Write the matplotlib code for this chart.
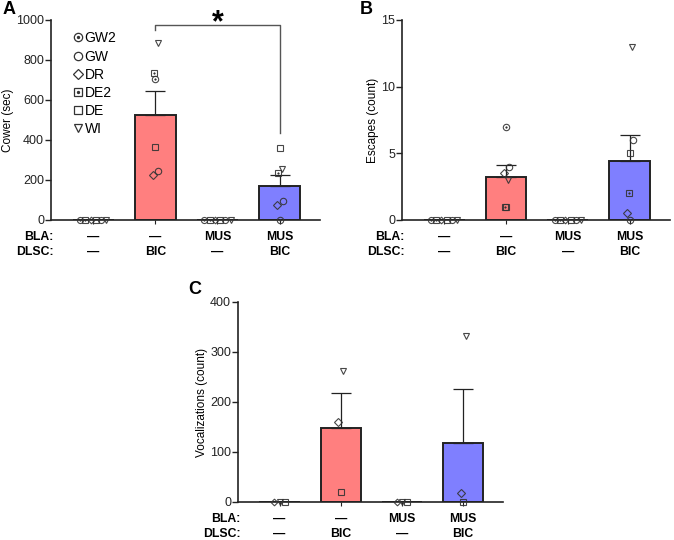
import numpy as np
import matplotlib
matplotlib.use("Agg")
import matplotlib.pyplot as plt
from matplotlib.lines import Line2D
from matplotlib.legend_handler import HandlerTuple

plt.rcParams['font.family'] = ['Liberation Sans', 'DejaVu Sans']

# ---------------- data ----------------
groups = ["g1", "g2", "g3", "g4"]
bla_labels = ["—", "—", "MUS", "MUS"]
dlsc_labels = ["—", "BIC", "—", "BIC"]
animals = ["GW2", "GW", "DR", "DE2", "DE", "WI"]

# Cower (sec), per group per animal (GW2, GW, DR, DE2, DE, WI)
cower = [
    [0, 0, 0, 0, 0, 0],
    [703, 245, 225, 737, 367, 886],
    [0, 0, 0, 0, 0, 0],
    [0, 93, 77, 237, 358, 253],
]
# Escapes (count)
escapes = [
    [0, 0, 0, 0, 0, 0],
    [7, 4, 3.5, 1, 1, 3],
    [0, 0, 0, 0, 0, 0],
    [0, 6, 0.5, 2, 5, 13],
]
# Vocalizations (count), animals DR, DE, WI
voc_animals = ["DR", "DE", "WI"]
vocal = [
    [0, 0, 0],
    [161, 20, 263],
    [0, 0, 0],
    [19, 0, 333],
]

# ---------------- styles ----------------
bar_colors = ["#ff7f7f", "#ff7f7f", "#7f7fff", "#7f7fff"]
marker_style = {
    "GW2": ("o", True), "GW": ("o", False), "DR": ("D", False),
    "DE2": ("s", True), "DE": ("s", False), "WI": ("v", False),
}
marker_size = {"o": 4.6, "D": 3.6, "s": 4.4, "v": 4.6}
# small horizontal jitter for non-zero points
jitter = {"GW2": 0.0, "GW": 0.05, "DR": -0.04, "DE2": -0.02, "DE": 0.0, "WI": 0.04}
zero_order6 = ["GW2", "DE2", "DR", "DE", "GW", "WI"]
zero_order3 = ["DR", "WI", "DE"]
edge = "#222222"
pt_col = "#333333"

W, H = 674, 540
fig = plt.figure(figsize=(W / 100, H / 100), dpi=100)


def ax_at(l, r, t, b):
    return fig.add_axes([l / W, 1 - b / H, (r - l) / W, (b - t) / H])


def draw_marker(ax, x, y, name, size_scale=1.0):
    m, dot = marker_style[name]
    ms = marker_size[m] * size_scale
    ax.plot([x], [y], marker=m, ms=ms, mfc="none", mec=pt_col, mew=0.8,
            ls="none", clip_on=False, zorder=5, alpha=0.9)
    if dot:
        ax.plot([x], [y], marker="o", ms=1.2, mfc=pt_col, mec=pt_col, mew=0.3,
                ls="none", clip_on=False, zorder=6)


ROW1, ROW2 = -12.0, -22.8
LAB_FS = 8.8


def panel(ax, data, names, ylim, yticks, ylabel, zero_order):
    x = np.arange(len(groups))
    means = [np.mean(v) for v in data]
    sems = [np.std(v, ddof=1) / np.sqrt(len(v)) for v in data]
    ax.bar(x, means, width=0.66, color=bar_colors, edgecolor=edge,
           linewidth=1.4, zorder=2)
    for i in range(len(groups)):
        if means[i] > 0:
            ax.errorbar([x[i]], [means[i]], yerr=[[0], [sems[i]]], fmt="none",
                        ecolor=edge, elinewidth=0.9, capsize=7, capthick=0.9,
                        zorder=3)
        vals = data[i]
        if all(v == 0 for v in vals):
            n = len(zero_order)
            offs = (np.arange(n) - (n - 1) / 2) * 0.085
            for k, nm in enumerate(zero_order):
                draw_marker(ax, x[i] + offs[k], 0, nm, 0.95)
        else:
            for nm, v in zip(names, vals):
                draw_marker(ax, x[i] + jitter[nm], v, nm)
    ax.set_xlim(-0.68, 3.65)
    ax.set_ylim(*ylim)
    ax.set_yticks(yticks)
    ax.set_xticks(x)
    ax.set_xticklabels([])
    ax.tick_params(axis="y", length=4, width=1.0, labelsize=9, pad=1,
                   colors="#222222")
    ax.tick_params(axis="x", length=3, width=0.8, direction="out",
                   colors="#222222")
    for s in ["top", "right"]:
        ax.spines[s].set_visible(False)
    for s in ["left", "bottom"]:
        ax.spines[s].set_linewidth(1.2)
        ax.spines[s].set_color("#222222")
    ax.set_ylabel(ylabel, fontsize=8.5, labelpad=1.5)
    for i in range(len(groups)):
        ax.annotate(bla_labels[i], xy=(x[i], 0), xycoords=("data", "axes fraction"),
                    xytext=(0, ROW1), textcoords="offset points", ha="center",
                    va="center", fontsize=LAB_FS, fontweight="bold")
        ax.annotate(dlsc_labels[i], xy=(x[i], 0), xycoords=("data", "axes fraction"),
                    xytext=(0, ROW2), textcoords="offset points", ha="center",
                    va="center", fontsize=LAB_FS, fontweight="bold")
    ax.annotate("BLA:", xy=(0, 0), xycoords="axes fraction", xytext=(2, ROW1),
                textcoords="offset points", ha="right", va="center",
                fontsize=LAB_FS, fontweight="bold")
    ax.annotate("DLSC:", xy=(0, 0), xycoords="axes fraction", xytext=(2, ROW2),
                textcoords="offset points", ha="right", va="center",
                fontsize=LAB_FS, fontweight="bold")
    return means, sems


# Panel A
axA = ax_at(51, 320, 20, 220)
panel(axA, cower, animals, (0, 1000), range(0, 1001, 200), "Cower (sec)", zero_order6)
axA.plot([1, 1, 3, 3], [950, 975, 975, 435], color="#555555", lw=1.0,
         clip_on=False, zorder=4)
axA.text(2, 985, "*", ha="center", va="center", fontsize=22,
         fontweight="bold", clip_on=False)
handles = []
for nm in animals:
    m, dot = marker_style[nm]
    h1 = Line2D([], [], marker=m, ms=marker_size[m] * 1.3, mfc="none",
                mec=pt_col, mew=0.9, ls="none")
    if dot:
        h2 = Line2D([], [], marker="o", ms=1.4, mfc=pt_col, mec=pt_col, ls="none")
        handles.append((h1, h2))
    else:
        handles.append(h1)
axA.legend(handles, animals, loc="upper left", bbox_to_anchor=(0.05, 0.985),
           frameon=False, fontsize=10, handlelength=0.7, handletextpad=0.15,
           labelspacing=0.3, borderpad=0.1,
           handler_map={tuple: HandlerTuple(ndivide=1, pad=0)})

# Panel B
axB = ax_at(402, 670, 20, 220)
panel(axB, escapes, animals, (0, 15), [0, 5, 10, 15], "Escapes (count)", zero_order6)

# Panel C
axC = ax_at(238, 503, 302, 502)
panel(axC, vocal, voc_animals, (0, 400), range(0, 401, 100),
      "Vocalizations (count)", zero_order3)

# panel letters
fig.text(3 / W, 1 - 10 / H, "A", fontsize=13, fontweight="bold", va="center")
fig.text(360 / W, 1 - 10 / H, "B", fontsize=13, fontweight="bold", va="center")
fig.text(188 / W, 1 - 290 / H, "C", fontsize=13, fontweight="bold", va="center")

fig.savefig("out.png", dpi=100, facecolor="white")
